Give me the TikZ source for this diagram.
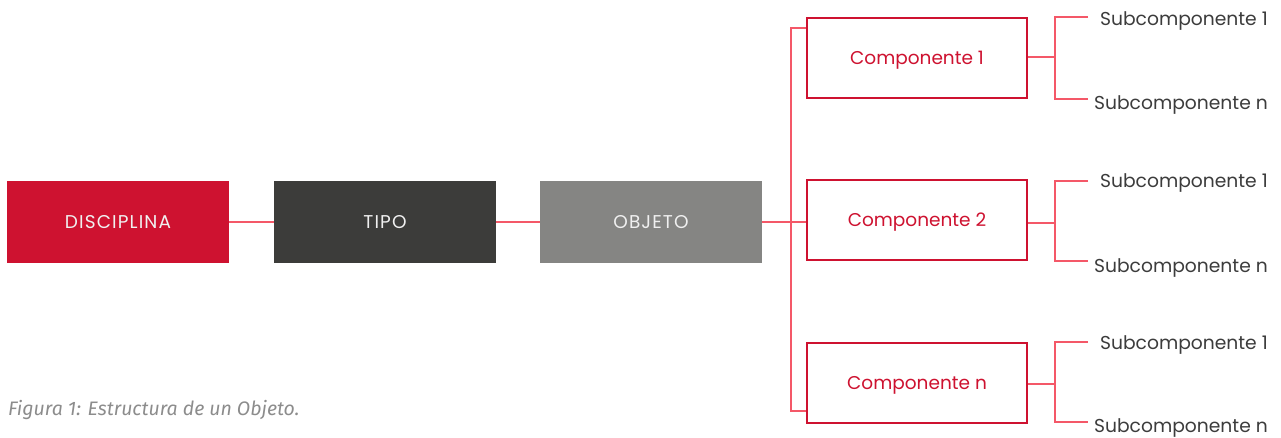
\documentclass[tikz,border=0pt]{standalone}
\usepackage{fontspec}
\setmainfont{Poppins}
\newfontfamily\capfont{Fira Sans}
\newfontfamily\wide{Poppins}[LetterSpace=6]
\definecolor{cred}{HTML}{CE1230}
\definecolor{cdark}{HTML}{3C3C3A}
\definecolor{cgray}{HTML}{858583}
\definecolor{cline}{HTML}{F45868}
\definecolor{ctext}{HTML}{3C3C3C}
\definecolor{ccap}{HTML}{8C8C8C}
\begin{document}
\begin{tikzpicture}[x=1pt,y=-1pt,
  mainbox/.style={minimum width=222pt,minimum height=82pt,inner sep=0pt,text height=13pt,text depth=0pt,text=white!94!black,font=\wide\fontsize{18.5}{20}\selectfont},
  compbox/.style={draw=cred,line width=2.4pt,fill=white,minimum width=220pt,minimum height=80pt,inner sep=0pt,text height=13pt,text depth=0pt,text=cred,font=\fontsize{18.5}{20}\selectfont},
  subtxt/.style={anchor=east,inner sep=0pt,text height=13pt,text depth=0pt,text=ctext,font=\fontsize{18.7}{20}\selectfont},
  conn/.style={draw=cline,line width=2.9pt}]
\useasboundingbox (0,0) rectangle (1281,437);
% main chain
\node[mainbox,fill=cred] (disc) at (118,222) {DISCIPLINA};
\node[mainbox,fill=cdark] (tipo) at (385,222) {TIPO};
\node[mainbox,fill=cgray] (obj) at (651,222) {OBJETO};
% components
\node[compbox] (c1) at (917,58) {Componente 1};
\node[compbox] (c2) at (917,220) {Componente 2};
\node[compbox] (cn) at (917,383) {Componente n};
% connectors
\coordinate (tj) at (791,222);
\coordinate (tt) at (791,28);
\coordinate (tb) at (791,411);
\draw[conn] (disc.east) -- (tipo.west);
\draw[conn] (tipo.east) -- (obj.west);
\draw[conn] (obj.east) -- (tj) -- (c2.west |- tj);
\draw[conn] (c1.west |- tt) -- (tt) -- (tb) -- (cn.west |- tb);
% sub-branches
\foreach \c/\yt/\ym/\yb [count=\i] in {c1/17/57/99, c2/181/223/261, cn/342/384/422}{
  \coordinate (m\i) at (1055,\ym);
  \coordinate (t\i) at (1055,\yt);
  \coordinate (b\i) at (1055,\yb);
  \coordinate (te\i) at (1088,\yt);
  \coordinate (be\i) at (1088,\yb);
  \draw[conn] (\c.east |- m\i) -- (m\i);
  \draw[conn] (te\i) -- (t\i) -- (b\i) -- (be\i);
}
\node[subtxt] (s11) at (1268,19) {Subcomponente 1};
\node[subtxt] (s1n) at (1268,103) {Subcomponente n};
\node[subtxt] (s21) at (1268,181) {Subcomponente 1};
\node[subtxt] (s2n) at (1268,266) {Subcomponente n};
\node[subtxt] (sn1) at (1268,343) {Subcomponente 1};
\node[subtxt] (snn) at (1268,426) {Subcomponente n};
% caption
\node[anchor=west,inner sep=0pt,text height=13.4pt,text depth=0pt,text=ccap,font=\capfont\itshape\fontsize{19.5}{21}\selectfont] (cap) at (8,409) {Figura 1: Estructura de un Objeto.};
\end{tikzpicture}
\end{document}
